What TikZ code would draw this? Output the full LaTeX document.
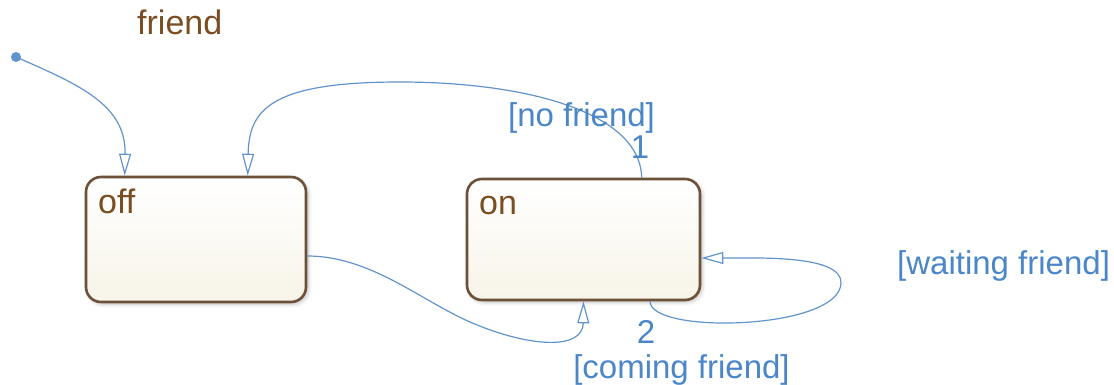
\documentclass[tikz,border=0pt]{standalone}
\usepackage{fontspec}
\setmainfont{Liberation Sans}
\usetikzlibrary{arrows.meta,shadows.blur}

\definecolor{edgeblue}{RGB}{98,148,204}
\definecolor{labelblue}{RGB}{74,134,200}
\definecolor{statebrown}{RGB}{108,80,56}
\definecolor{textbrown}{RGB}{122,78,34}
\definecolor{statefill}{RGB}{247,244,232}

\tikzset{
  statebox/.style={draw=statebrown, line width=2.6pt, rounded corners=15pt,
    top color=white, bottom color=statefill,
    blur shadow={shadow xshift=2pt, shadow yshift=-2pt, shadow blur steps=6,
      shadow opacity=25, shadow blur radius=4pt},
    inner sep=0pt},
  statename/.style={text=textbrown, font=\fontsize{34}{37}\selectfont, inner sep=0pt, anchor=base west},
  guard/.style={text=labelblue, font=\fontsize{33}{36}\selectfont, inner sep=0pt},
  trans/.style={draw=edgeblue, line width=1.2pt,
    -{Triangle[open, length=22pt, width=12pt, line width=1.2pt]}},
}

\begin{document}
\begin{tikzpicture}[x=1pt, y=-1pt]
  \useasboundingbox (0,0) rectangle (1114,385);

  % chart name
  \node[statename] (chart) at (137,35) {friend};

  % states
  \node[statebox, minimum width=220pt, minimum height=125pt] (off) at (196,239.5) {};
  \node[statebox, minimum width=233pt, minimum height=121pt] (on) at (583.5,239.5) {};
  \node[statename] (offname) at (98,213) {off};
  \node[statename] (onname) at (479,214) {on};

  % default transition
  \node[circle, fill=edgeblue, minimum size=10pt, inner sep=0pt] (init) at (16,57) {};
  \draw[trans] (init.center) .. controls (80,85) and (126,105) .. ([xshift=40pt]off.north west);

  % on -> off
  \draw[trans] ([xshift=176pt]on.north west)
      .. controls (640,110) and (520,82) .. (400,82)
      .. controls (270,82) and (249,110) .. ([xshift=163pt]off.north west);
  \node[guard, anchor=base west] (g1) at (508,127) {[no friend]};
  \node[guard, anchor=base] (p1) at (640,159) {1};

  % off -> on
  \draw[trans] ([yshift=-16.5pt]off.east)
      .. controls (370,256) and (420,300) .. (470,322)
      .. controls (530,348) and (583,350) .. (on.south);
  \node[guard, anchor=base] (g2) at (681.5,378) {[coming friend]};

  % on -> on
  \draw[trans] ([xshift=66.5pt]on.south)
      .. controls (650,335) and (840,330) .. (841,283)
      .. controls (842,255) and (760,258) .. ([yshift=-18.5pt]on.east);
  \node[guard, anchor=base] (p2) at (646,343) {2};
  \node[guard, anchor=base west] (g3) at (897,274) {[waiting friend]};
\end{tikzpicture}
\end{document}
